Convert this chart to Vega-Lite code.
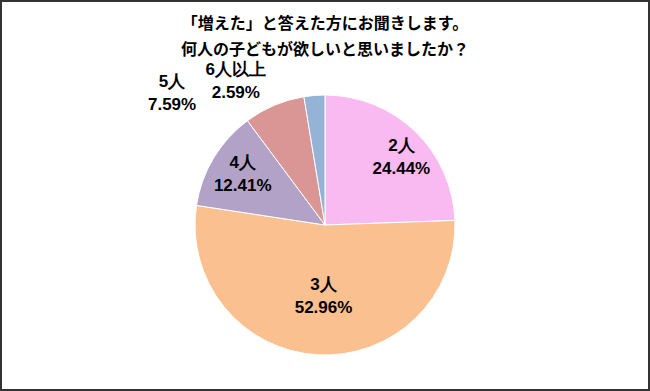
{
  "$schema": "https://vega.github.io/schema/vega-lite/v6.json",
  "width": 650,
  "height": 391,
  "autosize": {"type": "none"},
  "padding": 0,
  "background": "white",
  "view": {"stroke": "#333333", "strokeWidth": 4},
  "config": {
    "font": "Liberation Sans"
  },
  "title": {
    "text": ["「増えた」と答えた方にお聞きします。", "何人の子どもが欲しいと思いましたか？"],
    "anchor": "middle",
    "frame": "group",
    "orient": "top",
    "offset": -58,
    "font": "Noto Sans CJK JP",
    "fontSize": 16,
    "fontWeight": "bold",
    "lineHeight": 26,
    "color": "#000000"
  },
  "data": {
    "values": [
      {"cat": "2人", "pct": 24.44, "label": "2人\n24.44%"},
      {"cat": "3人", "pct": 52.96, "label": "3人\n52.96%"},
      {"cat": "4人", "pct": 12.41, "label": "4人\n12.41%"},
      {"cat": "5人", "pct": 7.59, "label": "5人\n7.59%"},
      {"cat": "6人以上", "pct": 2.59, "label": "6人以上\n2.59%"}
    ]
  },
  "encoding": {
    "theta": {"field": "pct", "type": "quantitative", "stack": true},
    "order": {"field": "cat", "type": "nominal", "sort": "ascending"}
  },
  "layer": [
    {
      "mark": {"type": "arc", "outerRadius": 130, "stroke": "white", "strokeWidth": 1, "yOffset": 29.5},
      "encoding": {
        "color": {
          "field": "cat", "type": "nominal", "legend": null,
          "scale": {"domain": ["2人", "3人", "4人", "5人", "6人以上"], "range": ["#F9BAF1", "#FAC08F", "#B3A2C7", "#D99694", "#95B3D7"]}
        }
      }
    },
    {
      "mark": {"type": "text", "radius": 110, "dy": 29.5, "lineBreak": "\n", "fontSize": 17, "fontWeight": "bold", "lineHeight": 23, "font": "Liberation Sans"},
      "encoding": {"text": {"condition": {"test": "datum.cat === '2人'", "field": "label"}, "value": ""}}
    },
    {
      "mark": {"type": "text", "radius": 60, "dx": 2, "dy": 29.5, "lineBreak": "\n", "fontSize": 17, "fontWeight": "bold", "lineHeight": 23, "font": "Liberation Sans"},
      "encoding": {"text": {"condition": {"test": "datum.cat === '3人'", "field": "label"}, "value": ""}}
    },
    {
      "mark": {"type": "text", "radius": 103, "dx": 6, "dy": 20.5, "lineBreak": "\n", "fontSize": 17, "fontWeight": "bold", "lineHeight": 23, "font": "Liberation Sans"},
      "encoding": {"text": {"condition": {"test": "datum.cat === '4人'", "field": "label"}, "value": ""}}
    },
    {
      "mark": {"type": "text", "radius": 165, "dx": -88.5, "dy": 38.5, "lineBreak": "\n", "fontSize": 17, "fontWeight": "bold", "lineHeight": 23, "font": "Liberation Sans"},
      "encoding": {"text": {"condition": {"test": "datum.cat === '5人'", "field": "label"}, "value": ""}}
    },
    {
      "mark": {"type": "text", "radius": 150, "dx": -77, "dy": 24, "lineBreak": "\n", "fontSize": 17, "fontWeight": "bold", "lineHeight": 23, "font": "Liberation Sans"},
      "encoding": {"text": {"condition": {"test": "datum.cat === '6人以上'", "field": "label"}, "value": ""}}
    }
  ]
}
